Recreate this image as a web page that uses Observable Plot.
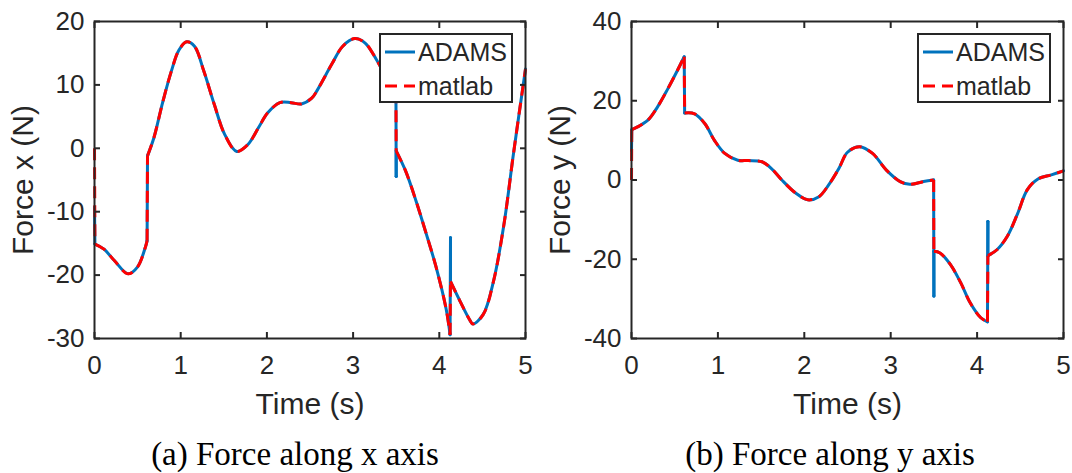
<!DOCTYPE html>
<html><head><meta charset="utf-8">
<script src="https://cdn.jsdelivr.net/npm/d3@7"></script>
<script src="https://cdn.jsdelivr.net/npm/@observablehq/plot@0.6"></script>
<style>
body{margin:0;background:#fff;}
#wrap{position:relative;width:1072px;height:473px;overflow:hidden;background:#fff;}
.panel{position:absolute;top:0;width:536px;height:420px;}
.cap{position:absolute;top:436px;font-family:"Liberation Serif","Times New Roman",serif;font-size:33px;color:#000;white-space:nowrap;transform:translateX(-50%);}
</style></head><body><div id="wrap"></div>
<script>
// ---- data ----
const timeTicks = [0, 1, 2, 3, 4, 5];
const fxTicks = [-30, -20, -10, 0, 10, 20];
const fyTicks = [-40, -20, 0, 20, 40];
const seriesNames = ["ADAMS", "matlab"];
const seriesColors = ["#0072BD", "#FF0000"];
const captions = ["(a) Force along x axis", "(b) Force along y axis"];
const yLabels = ["Force x (N)", "Force y (N)"];
const xLabel = "Time (s)";

// Force x
const fxMatlabT = [0, 0.005, 0.11, 0.23, 0.39, 0.50, 0.59, 0.61, 0.615, 0.69, 0.79, 0.89, 0.98, 1.07, 1.16, 1.27, 1.39, 1.51, 1.65, 1.78, 1.90, 2.01, 2.15, 2.28, 2.40, 2.52, 2.59, 2.75, 2.88, 3.02, 3.14, 3.27, 3.37, 3.497, 3.5, 3.61, 3.73, 3.84, 3.96, 4.08, 4.125, 4.13, 4.24, 4.35, 4.39, 4.51, 4.63, 4.75, 4.86, 5.0];
const fxMatlabV = [0, -15.1, -15.9, -17.7, -19.8, -18.7, -15.6, -14.6, -1.2, 1.7, 7.2, 12.1, 15.5, 16.8, 16.1, 12.1, 6.9, 2.2, -0.5, 0.6, 3.2, 5.6, 7.2, 7.2, 7.0, 7.9, 9.3, 13.2, 16.1, 17.3, 16.6, 14.0, 11.6, 9.0, -0.4, -3.6, -8.3, -13.1, -18.6, -25.4, -29.4, -21.0, -24.1, -27.0, -27.7, -26.2, -20.9, -12.0, -0.9, 12.5];
const fxAdamsT = [0, 0.005, 0.11, 0.23, 0.39, 0.50, 0.59, 0.61, 0.615, 0.69, 0.79, 0.89, 0.98, 1.07, 1.16, 1.27, 1.39, 1.51, 1.65, 1.78, 1.90, 2.01, 2.15, 2.28, 2.40, 2.52, 2.59, 2.75, 2.88, 3.02, 3.14, 3.27, 3.37, 3.497, 3.5, 3.5, 3.61, 3.73, 3.84, 3.96, 4.08, 4.125, 4.13, 4.13, 4.24, 4.35, 4.39, 4.51, 4.63, 4.75, 4.86, 5.0];
const fxAdamsV = [-9.3, -15.1, -15.9, -17.7, -19.8, -18.7, -15.6, -14.6, -1.2, 1.7, 7.2, 12.1, 15.5, 16.8, 16.1, 12.1, 6.9, 2.2, -0.5, 0.6, 3.2, 5.6, 7.2, 7.2, 7.0, 7.9, 9.3, 13.2, 16.1, 17.3, 16.6, 14.0, 11.6, 9.0, -4.4, -0.4, -3.6, -8.3, -13.1, -18.6, -25.4, -29.4, -14.1, -21.0, -24.1, -27.0, -27.7, -26.2, -20.9, -12.0, -0.9, 12.5];

// Force y
const fyMatlabT = [0, 0.003, 0.07, 0.19, 0.30, 0.42, 0.54, 0.61, 0.615, 0.73, 0.85, 0.96, 1.08, 1.23, 1.35, 1.51, 1.62, 1.74, 1.90, 2.04, 2.17, 2.28, 2.40, 2.50, 2.64, 2.79, 2.95, 3.11, 3.22, 3.38, 3.497, 3.5, 3.57, 3.69, 3.81, 3.92, 4.04, 4.12, 4.125, 4.23, 4.35, 4.47, 4.58, 4.70, 4.86, 5.0];
const fyMatlabV = [0, 12.7, 13.4, 15.1, 18.4, 23.0, 28.0, 31.1, 16.9, 16.7, 14.2, 10.0, 6.7, 5.0, 4.9, 4.6, 2.9, 0.0, -3.3, -5.0, -4.2, -1.3, 2.9, 7.0, 8.4, 6.7, 2.5, -0.4, -1.1, -0.4, 0.0, -18.0, -18.4, -21.3, -25.9, -31.0, -34.7, -35.8, -19.1, -17.6, -14.2, -8.4, -2.5, 0.2, 1.3, 2.3];
const fyAdamsT = [0, 0.003, 0.07, 0.19, 0.30, 0.42, 0.54, 0.61, 0.615, 0.73, 0.85, 0.96, 1.08, 1.23, 1.35, 1.51, 1.62, 1.74, 1.90, 2.04, 2.17, 2.28, 2.40, 2.50, 2.64, 2.79, 2.95, 3.11, 3.22, 3.38, 3.497, 3.5, 3.5, 3.57, 3.69, 3.81, 3.92, 4.04, 4.12, 4.125, 4.125, 4.23, 4.35, 4.47, 4.58, 4.70, 4.86, 5.0];
const fyAdamsV = [7.5, 12.7, 13.4, 15.1, 18.4, 23.0, 28.0, 31.1, 16.9, 16.7, 14.2, 10.0, 6.7, 5.0, 4.9, 4.6, 2.9, 0.0, -3.3, -5.0, -4.2, -1.3, 2.9, 7.0, 8.4, 6.7, 2.5, -0.4, -1.1, -0.4, 0.0, -29.3, -18.0, -18.4, -21.3, -25.9, -31.0, -34.7, -35.8, -10.5, -19.1, -17.6, -14.2, -8.4, -2.5, 0.2, 1.3, 2.3];

// ---- drawing ----
const axisColor = "#262626";
const fontFam = '"Liberation Sans", Arial, sans-serif';
const JUMP = 0.008; // consecutive samples closer than this are drawn as straight jumps

// split a series into smooth pieces (curved) and jump pieces (straight)
function pieces(T, V) {
  const smooth = [], jumps = [];
  let seg = 0;
  for (let i = 0; i < T.length; i++) {
    if (i > 0 && T[i] - T[i - 1] < JUMP) {
      seg++;
      jumps.push({t: T[i - 1], v: V[i - 1], z: i}, {t: T[i], v: V[i], z: i});
    }
    smooth.push({t: T[i], v: V[i], z: seg});
  }
  return {smooth, jumps};
}

function legendMark(index, scales, values, dims) {
  const w = 132, h = 68;
  const x0 = dims.width - dims.marginRight - 13 - w;
  const y0 = dims.marginTop + 13;
  const g = d3.create("svg:g");
  g.append("rect").attr("x", x0).attr("y", y0).attr("width", w).attr("height", h)
    .attr("fill", "#fff").attr("stroke", axisColor).attr("stroke-width", 2);
  seriesNames.forEach((name, i) => {
    const yy = y0 + 18 + i * 34;
    const ln = g.append("line").attr("x1", x0 + 5).attr("x2", x0 + 35).attr("y1", yy).attr("y2", yy)
      .attr("stroke", seriesColors[i]).attr("stroke-width", 3);
    if (i === 1) ln.attr("stroke-dasharray", "12,7");
    g.append("text").attr("x", x0 + 38).attr("y", yy).attr("dy", "0.36em")
      .attr("text-anchor", "start")
      .attr("font-size", 25).attr("fill", axisColor).attr("font-family", fontFam).text(name);
  });
  return g.node();
}

function panel(cfg) {
  const a = pieces(cfg.adamsT, cfg.adamsV);
  const m = pieces(cfg.matlabT, cfg.matlabV);
  const fmt = d => String(d);
  const blue = {x: "t", y: "v", z: "z", stroke: seriesColors[0], strokeWidth: 3};
  const red = {x: "t", y: "v", z: "z", stroke: seriesColors[1], strokeWidth: 3, strokeDasharray: "12,7", strokeLinecap: "butt"};
  return Plot.plot({
    width: 536, height: 420,
    marginTop: 21, marginBottom: 82, marginLeft: cfg.marginLeft, marginRight: cfg.marginRight,
    style: {fontFamily: fontFam, fontSize: "26px", color: axisColor, background: "transparent", overflow: "visible"},
    x: {domain: [0, 5]},
    y: {domain: cfg.yDomain},
    marks: [
      Plot.line(a.smooth, {...blue, curve: "catmull-rom"}),
      Plot.line(a.jumps, {...blue, curve: "linear"}),
      Plot.line(m.smooth, {...red, curve: "catmull-rom"}),
      Plot.line(m.jumps, {...red, curve: "linear"}),
      Plot.axisX({anchor: "bottom", ticks: timeTicks, tickSize: 0, tickPadding: 17, tickFormat: fmt, label: null}),
      Plot.axisY({anchor: "left", ticks: cfg.yTicks, tickSize: 0, tickPadding: 10, tickFormat: fmt, label: null}),
      Plot.axisX({anchor: "bottom", ticks: timeTicks, tickSize: -6, tickFormat: () => "", label: null, strokeWidth: 2}),
      Plot.axisX({anchor: "top", ticks: timeTicks, tickSize: -6, tickFormat: () => "", label: null, strokeWidth: 2}),
      Plot.axisY({anchor: "left", ticks: cfg.yTicks, tickSize: -6, tickFormat: () => "", label: null, strokeWidth: 2}),
      Plot.axisY({anchor: "right", ticks: cfg.yTicks, tickSize: -6, tickFormat: () => "", label: null, strokeWidth: 2}),
      Plot.frame({stroke: axisColor, strokeWidth: 2}),
      Plot.text([cfg.yLabel], {text: d => d, frameAnchor: "left", textAnchor: "middle", lineAnchor: "middle", dx: -71, rotate: -90, fontSize: 30}),
      Plot.text([xLabel], {text: d => d, frameAnchor: "bottom", textAnchor: "middle", lineAnchor: "middle", dy: 66, fontSize: 30}),
      legendMark
    ]
  });
}

const wrap = document.getElementById("wrap");
const panels = [
  {left: 0, capX: 295, adamsT: fxAdamsT, adamsV: fxAdamsV, matlabT: fxMatlabT, matlabV: fxMatlabV, yDomain: [-30, 20], yTicks: fxTicks, yLabel: yLabels[0], marginLeft: 94, marginRight: 11, caption: captions[0]},
  {left: 536, capX: 294, adamsT: fyAdamsT, adamsV: fyAdamsV, matlabT: fyMatlabT, matlabV: fyMatlabV, yDomain: [-40, 40], yTicks: fyTicks, yLabel: yLabels[1], marginLeft: 95, marginRight: 9, caption: captions[1]}
];
panels.forEach(p => {
  const div = document.createElement("div");
  div.className = "panel";
  div.style.left = p.left + "px";
  div.appendChild(panel(p));
  wrap.appendChild(div);
  const cap = document.createElement("div");
  cap.className = "cap";
  cap.style.left = (p.left + p.capX) + "px";
  cap.textContent = p.caption;
  wrap.appendChild(cap);
});
</script>
</body></html>
